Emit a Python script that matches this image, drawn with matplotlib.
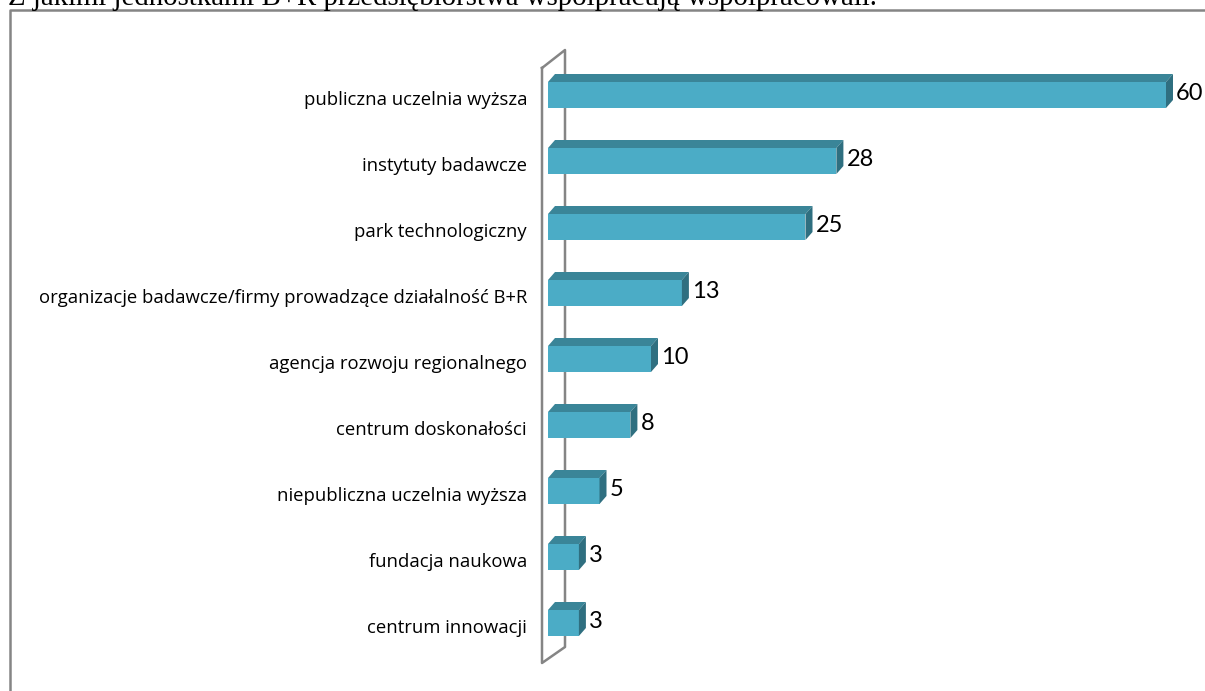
import numpy as np
import matplotlib.pyplot as plt
from matplotlib.patches import Polygon, Rectangle
from matplotlib.lines import Line2D

# dane
kategorie = [
    "publiczna uczelnia wyższa",
    "instytuty badawcze",
    "park technologiczny",
    "organizacje badawcze/firmy prowadzące działalność B+R",
    "agencja rozwoju regionalnego",
    "centrum doskonałości",
    "niepubliczna uczelnia wyższa",
    "fundacja naukowa",
    "centrum innowacji",
]
wartosci = [60, 28, 25, 13, 10, 8, 5, 3, 3]
tytul = "Z jakimi jednostkami B+R przedsiębiorstwa współpracują współpracowali."

# wymiary w pikselach
W, H = 1205, 691
X0 = 548            # początek osi wartości
PX_NA_JEDN = 618 / 60
Y0 = 95             # środek pierwszego słupka
KROK = 66           # odstęp między słupkami
GLEB_X, GLEB_Y = 7, 8   # głębokość efektu 3D
WYS_SLUPKA = 26

KOLOR_PRZOD = "#4bacc6"
KOLOR_GORA = "#3a8598"
KOLOR_BOK = "#2f6f80"
SZARY = "#858585"

plt.rcParams["font.family"] = ["Lato", "DejaVu Sans"]

fig = plt.figure(figsize=(W / 100, H / 100), dpi=100)
n = len(kategorie)
gora_px = Y0 - KROK / 2
dol_px = Y0 + (n - 0.5) * KROK
ax = fig.add_axes([X0 / W, 1 - dol_px / H, 60 * PX_NA_JEDN / W, (dol_px - gora_px) / H])
ax.set_xlim(0, 60)
ax.set_ylim(n - 0.5, -0.5)
ax.axis("off")

dx = GLEB_X / PX_NA_JEDN
dy = GLEB_Y / KROK
h = WYS_SLUPKA / KROK

# ściana (pionowa płaszczyzna osi kategorii)
def px(x, y):
    return ((x - X0) / PX_NA_JEDN, (y - Y0) / KROK)

sciana = [px(542, 68), px(565, 50), px(565, 647), px(542, 663), px(542, 68)]
sx, sy = zip(*sciana)
ax.add_line(Line2D(sx, sy, color=SZARY, lw=1.8, zorder=1, clip_on=False))

for i, (kat, v) in enumerate(zip(kategorie, wartosci)):
    g = i - h / 2
    d = i + h / 2
    ax.add_patch(Rectangle((0, g), v, h, facecolor=KOLOR_PRZOD, edgecolor="none",
                           zorder=3, clip_on=False))
    ax.add_patch(Polygon([(0, g), (v, g), (v + dx, g - dy), (dx, g - dy)],
                         facecolor=KOLOR_GORA, edgecolor="none", zorder=3, clip_on=False))
    ax.add_patch(Polygon([(v, g), (v + dx, g - dy), (v + dx, d - dy), (v, d)],
                         facecolor=KOLOR_BOK, edgecolor="none", zorder=3, clip_on=False))
    ax.text(v + 10 / PX_NA_JEDN, i - 0.02, str(v), ha="left", va="center",
            fontsize=17, color="black", clip_on=False)
    ax.text(-21 / PX_NA_JEDN, i + 0.07, kat, ha="right", va="center",
            fontsize=13.3, color="black", clip_on=False,
            family=["Open Sans", "DejaVu Sans"])

# ramka i tytuł
fig.add_artist(Line2D([10 / W, 10 / W, 1], [0, 1 - 10 / H, 1 - 10 / H],
                      transform=fig.transFigure, color=SZARY, lw=1.8))
fig.text(8 / W, 1 - 5 / H, tytul, ha="left", va="baseline", fontsize=20.8,
         family=["Liberation Serif", "DejaVu Serif"])

fig.savefig("out.png", dpi=100)
